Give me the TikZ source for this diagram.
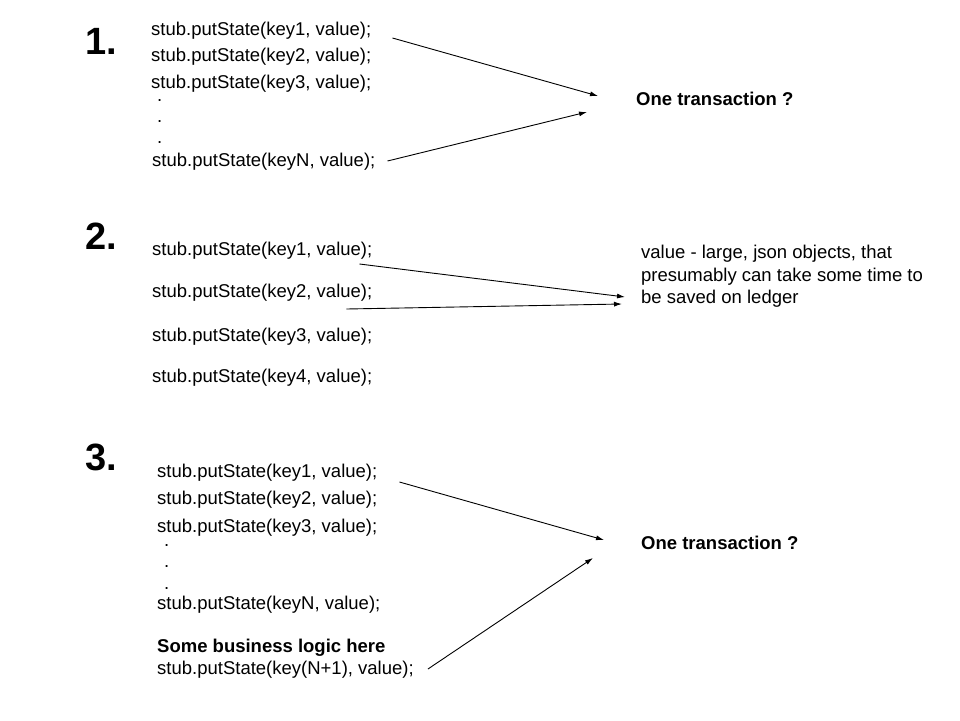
\documentclass[tikz,border=0pt]{standalone}
\usepackage{fontspec}
\setmainfont{Liberation Sans}
\usepackage{tikz}
\usetikzlibrary{arrows.meta}

\tikzset{
	code/.style={anchor=west, inner sep=0pt, font=\fontsize{18.5}{22}\selectfont},
	boldcode/.style={code, font=\fontsize{18.5}{22}\selectfont\bfseries},
	num/.style={anchor=west, inner sep=0pt, font=\fontsize{38}{44}\selectfont\bfseries},
	note/.style={anchor=north west, inner sep=0pt, align=left, font=\fontsize{18.5}{22.5}\selectfont},
	vdot/.style={anchor=base west, inner sep=0pt, font=\fontsize{18.5}{22}\selectfont},
	arr/.style={-{Latex[length=8pt,width=5pt]}, line width=0.9pt},
}

\begin{document}
\begin{tikzpicture}[x=1pt,y=-1pt]
	\useasboundingbox (0,0) rectangle (960,720);

	%pierwszy
	\node[num] (n1) at (85,41) {1.};
	\node[code] (a1) at (151,31) {stub.putState(key1, value);};
	\node[code] (a2) at (151,57) {stub.putState(key2, value);};
	\node[code] (a3) at (151,84) {stub.putState(key3, value);};
	\foreach \y [count=\i] in {101,122,143}
		\node[vdot] (ad\i) at (157,\y) {.};
	\node[code] (aN) at (152,162) {stub.putState(keyN, value);};
	\node[boldcode] (t1) at (636,99) {One transaction ?};

	\draw[arr] ([shift={(21,7)}]a1.east) -- ([shift={(-38,-3)}]t1.west);
	\draw[arr] ([shift={(12,-1)}]aN.east) -- ([shift={(-49,13)}]t1.west);

	%drugi
	\node[num] (n2) at (85,236) {2.};
	\node[code] (b1) at (152,251) {stub.putState(key1, value);};
	\node[code] (b2) at (152,293) {stub.putState(key2, value);};
	\node[code] (b3) at (152,337) {stub.putState(key3, value);};
	\node[code] (b4) at (152,378) {stub.putState(key4, value);};
	\node[note] (t2) at (641,245) {value - large, json objects, that\\presumably can take some time to\\be saved on ledger};

	\draw[arr] ([shift={(-13,13)}]b1.east) -- ([shift={(-16,52)}]t2.north west);
	\draw[arr] ([shift={(-26,16)}]b2.east) -- ([shift={(-19,59)}]t2.north west);

	%trzeci
	\node[num] (n3) at (85,457) {3.};
	\node[code] (c1) at (157,473) {stub.putState(key1, value);};
	\node[code] (c2) at (157,500) {stub.putState(key2, value);};
	\node[code] (c3) at (157,528) {stub.putState(key3, value);};
	\foreach \y [count=\i] in {546,567,589}
		\node[vdot] (cd\i) at (164,\y) {.};
	\node[code] (cN) at (157,605) {stub.putState(keyN, value);};
	\node[boldcode] (cb) at (157,648) {Some business logic here};
	\node[code] (cM) at (157,670) {stub.putState(key(N+1), value);};
	\node[boldcode] (t3) at (641,543) {One transaction ?};

	\draw[arr] ([shift={(22,9)}]c1.east) -- ([shift={(-37,-3)}]t3.west);
	\draw[arr] ([shift={(14,-1)}]cM.east) -- ([shift={(-48,15)}]t3.west);
\end{tikzpicture}
\end{document}
